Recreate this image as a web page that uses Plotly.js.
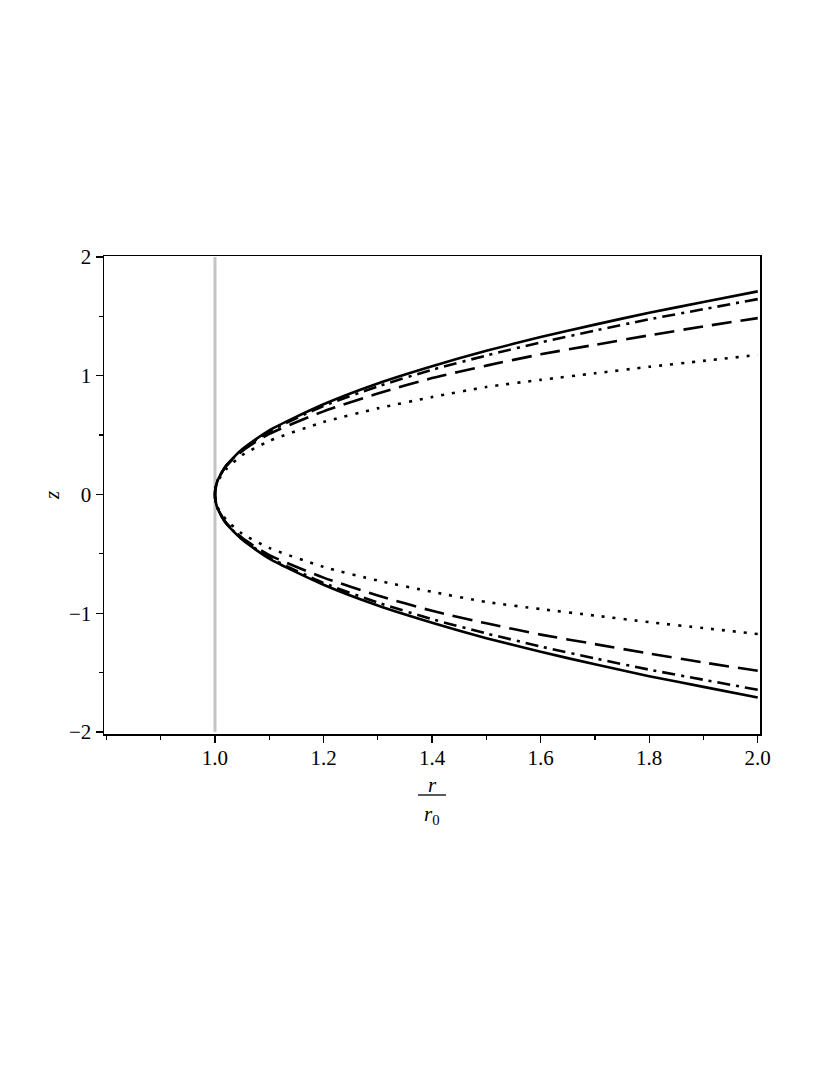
<!DOCTYPE html>
<html>
<head>
<meta charset="utf-8">
<script src="https://cdn.plot.ly/plotly-3.0.1.min.js"></script>
<style>
  html, body { margin: 0; padding: 0; background: #fff; }
  #plot { width: 830px; height: 1075px; }
</style>
</head>
<body>
<div id="plot"></div>
<script>
// r / r0 sample points (upper half, curves are mirrored about z = 0)
const rVals = [1.0, 1.001, 1.005, 1.02, 1.05, 1.1, 1.2, 1.3, 1.4, 1.5, 1.6, 1.7, 1.8, 1.9, 2.0];

// z values for each curve
const zSolid   = [0, 0.055, 0.12, 0.24, 0.38, 0.54, 0.76, 0.935, 1.08, 1.21, 1.325, 1.43, 1.53, 1.62, 1.71];
const zDashDot = [0, 0.055, 0.12, 0.24, 0.375, 0.53, 0.745, 0.91, 1.05, 1.17, 1.28, 1.38, 1.475, 1.56, 1.645];
const zDash    = [0, 0.055, 0.12, 0.235, 0.365, 0.51, 0.70, 0.85, 0.98, 1.085, 1.18, 1.26, 1.34, 1.415, 1.485];
const zDot     = [0, 0.05, 0.11, 0.21, 0.33, 0.45, 0.61, 0.725, 0.82, 0.905, 0.965, 1.02, 1.075, 1.125, 1.175];

// throat line r = r0
const throatX = [1.0, 1.0];
const throatZ = [-2, 2];

// tick labels
const xTickVals = [1.0, 1.2, 1.4, 1.6, 1.8, 2.0];
const xTickText = ['1.0', '1.2', '1.4', '1.6', '1.8', '2.0'];
const yTickVals = [-2, -1, 0, 1, 2];
const yTickText = ['\u22122', '\u22121', '0', '1', '2'];

const serif = "'Liberation Serif', 'Times New Roman', serif";

// build a closed profile: lower branch (mirrored) then upper branch
function profile(z, dash) {
    let xs = [];
    let ys = [];
    for (let i = rVals.length - 1; i >= 1; i--) {
        xs.push(rVals[i]);
        ys.push(-z[i]);
    }
    for (let i = 0; i < rVals.length; i++) {
        xs.push(rVals[i]);
        ys.push(z[i]);
    }
    return {
        x: xs,
        y: ys,
        mode: 'lines',
        type: 'scatter',
        line: {color: '#000', width: 2.6, dash: dash, shape: 'spline', smoothing: 0.6},
        hoverinfo: 'skip'
    };
}

let data = [
    {
        x: throatX,
        y: throatZ,
        mode: 'lines',
        type: 'scatter',
        line: {color: '#c4c4c4', width: 3},
        hoverinfo: 'skip'
    },
    profile(zDot, '3px,8px'),
    profile(zDash, '20px,9px'),
    profile(zDashDot, '13px,6px,3px,6px'),
    profile(zSolid, 'solid')
];

var layout = {
    width: 830,
    height: 1075,
    showlegend: false,
    paper_bgcolor: '#fff',
    plot_bgcolor: '#fff',
    margin: {l: 104, r: 70, t: 256, b: 341},
    font: {family: serif, color: '#000', size: 21},
    xaxis: {
        range: [0.7955, 2.0042],
        tickvals: xTickVals,
        ticktext: xTickText,
        ticks: 'outside',
        ticklen: 7,
        tickwidth: 1.2,
        tickcolor: '#000',
        ticklabelstandoff: -3,
        minor: {dtick: 0.1, tick0: 0.8, ticks: 'outside', ticklen: 4, tickwidth: 1.2, tickcolor: '#000'},
        showline: true,
        linecolor: '#000',
        linewidth: 1.5,
        mirror: true,
        showgrid: false,
        zeroline: false,
        tickfont: {family: serif, size: 21, color: '#000'}
    },
    yaxis: {
        range: [-2.017, 2.008],
        tickvals: yTickVals,
        ticktext: yTickText,
        ticks: 'outside',
        ticklen: 7,
        tickwidth: 1.2,
        tickcolor: '#000',
        minor: {dtick: 0.5, tick0: 0, ticks: 'outside', ticklen: 4, tickwidth: 1.2, tickcolor: '#000'},
        showline: true,
        linecolor: '#000',
        linewidth: 1.5,
        mirror: true,
        showgrid: false,
        zeroline: false,
        tickfont: {family: serif, size: 21, color: '#000'},
        title: {text: '<i>z</i>', font: {family: serif, size: 21, color: '#000'}, standoff: 3}
    },
    // x-axis label drawn as the fraction r / r0
    annotations: [
        {
            xref: 'paper', yref: 'paper', x: 0.5, y: -0.1067,
            text: '<i>r</i>', showarrow: false,
            xanchor: 'center', yanchor: 'middle',
            font: {family: serif, size: 21, color: '#000'}
        },
        {
            xref: 'paper', yref: 'paper', x: 0.5, y: -0.169,
            text: '<i>r</i><sub>0</sub>', showarrow: false,
            xanchor: 'center', yanchor: 'middle',
            font: {family: serif, size: 21, color: '#000'}
        }
    ],
    shapes: [
        {
            type: 'line', xref: 'paper', yref: 'paper',
            x0: 0.4787, x1: 0.5213, y0: -0.1276, y1: -0.1276,
            line: {color: '#000', width: 1.3}
        }
    ]
};

var config = {staticPlot: true, displayModeBar: false};

Plotly.newPlot('plot', data, layout, config);
</script>
</body>
</html>
